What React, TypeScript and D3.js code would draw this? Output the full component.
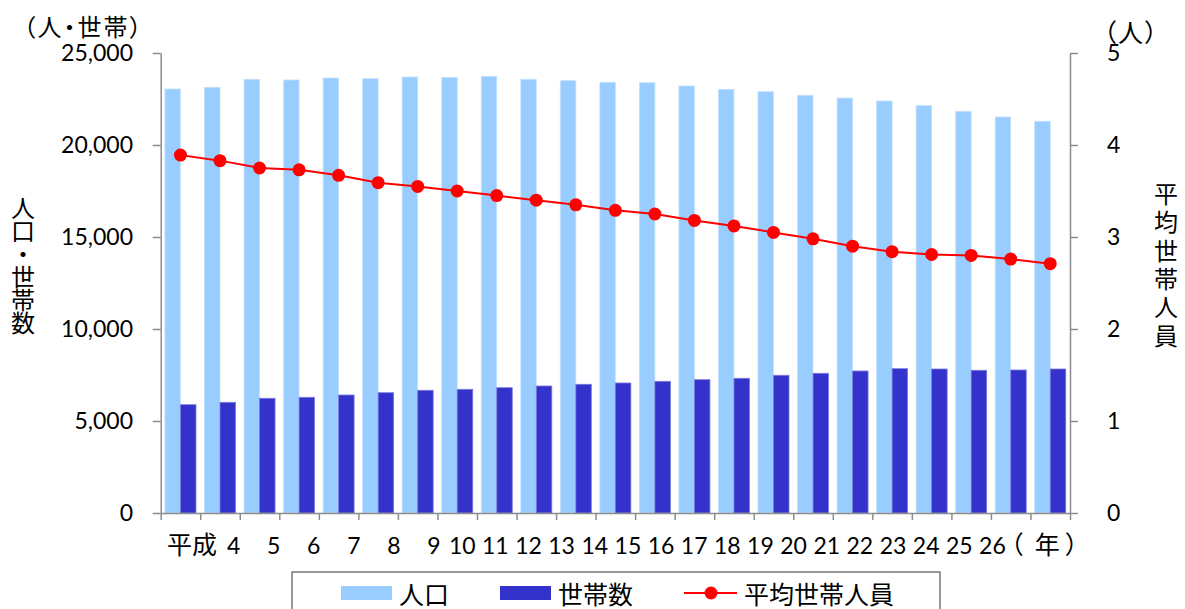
import React, { useEffect, useRef } from "react";
import * as d3 from "d3";

// ---- data ----
const years = [4, 5, 6, 7, 8, 9, 10, 11, 12, 13, 14, 15, 16, 17, 18, 19, 20, 21, 22, 23, 24, 25, 26];
const population = [23044, 23136, 23571, 23533, 23641, 23605, 23696, 23678, 23732, 23571, 23497, 23408, 23387, 23207, 23028, 22898, 22702, 22555, 22392, 22137, 21832, 21522, 21290];
const households = [5886, 6016, 6234, 6288, 6413, 6538, 6669, 6723, 6810, 6902, 6995, 7066, 7157, 7245, 7321, 7484, 7593, 7718, 7843, 7826, 7756, 7772, 7826];
const avgSize = [3.89, 3.83, 3.75, 3.73, 3.67, 3.59, 3.55, 3.50, 3.45, 3.40, 3.35, 3.29, 3.25, 3.18, 3.12, 3.05, 2.98, 2.90, 2.84, 2.81, 2.80, 2.76, 2.71];
const leftTicks = [0, 5000, 10000, 15000, 20000, 25000];
const rightTicks = [0, 1, 2, 3, 4, 5];
const eraLabel = "平成";
const yearUnit = ["（", "年", "）"];
const leftUnit = "（人・世帯）";
const rightUnit = "（人）";
const leftTitle = "人口・世帯数";
const rightTitle = "平均世帯人員";
const legendLabels = ["人口", "世帯数", "平均世帯人員"];

// ---- layout / style ----
const W = 1185, H = 609;
const PL = 160.7, PR = 1070, PT = 53, PB = 513;
const C = { light: "#99CCFF", dark: "#3333CC", red: "#FF0000", axis: "#8C8C8C", text: "#000" };
const NUM_FONT = "Lato, 'Noto Sans CJK JP', sans-serif";
const JP_FONT = "'Noto Sans CJK JP', sans-serif";

export default function App() {
  const leftRef = useRef<SVGGElement>(null);
  const rightRef = useRef<SVGGElement>(null);
  const bottomRef = useRef<SVGGElement>(null);

  const x = d3.scaleBand<number>().domain(years).range([PL, PR]).paddingInner(0.215).paddingOuter(0.1075);
  const bw = x.bandwidth() / 2;
  const yL = d3.scaleLinear().domain([0, 25000]).range([PB, PT]);
  const yR = d3.scaleLinear().domain([0, 5]).range([PB, PT]);
  const xb = d3.scaleLinear().domain([0, years.length]).range([PL, PR]);

  const cx = (i: number) => (x(years[i]) as number) + x.bandwidth() / 2;
  const line = d3.line<number>().x((_, i) => cx(i)).y((d) => yR(d));

  useEffect(() => {
    const styleAxis = (g: d3.Selection<SVGGElement, unknown, null, undefined>) => {
      g.select(".domain").attr("stroke", C.axis).attr("stroke-width", 1.5);
      g.selectAll(".tick line").attr("stroke", C.axis).attr("stroke-width", 1.5);
      g.selectAll(".tick text").attr("fill", C.text).attr("font-size", 23).attr("font-family", NUM_FONT);
    };
    const gl = d3.select(leftRef.current!);
    gl.call(d3.axisLeft(yL).tickValues(leftTicks).tickSize(8).tickSizeOuter(0).tickPadding(19.7).tickFormat(d3.format(",") as any));
    styleAxis(gl);
    const gr = d3.select(rightRef.current!);
    gr.call(d3.axisRight(yR).tickValues(rightTicks).tickSize(8).tickSizeOuter(0).tickPadding(29).tickFormat(d3.format("d") as any));
    styleAxis(gr);
    const gb = d3.select(bottomRef.current!);
    gb.call(d3.axisBottom(xb).tickValues(d3.range(0, years.length + 1)).tickSize(7).tickSizeOuter(0).tickFormat(() => ""));
    styleAxis(gb);
  }, []);

  // x label text run (as a single typed line, like the original text box)
  const labelDx = (i: number) => {
    if (i === 0) return 10;
    const prev = String(years[i - 1]);
    const cur = String(years[i]);
    if (prev.length === 1 && cur.length === 1) return 26.7;
    if (prev.length === 1) return 8.3;
    return 6.45;
  };

  const palt = { fontFeatureSettings: '"palt"', letterSpacing: "2px" } as React.CSSProperties;

  return (
    <svg width={W} height={H} style={{ position: "absolute", left: 0, top: 0, background: "#fff" }}>
      {/* bars */}
      {years.map((yr, i) => (
        <g key={yr}>
          <rect x={x(yr)} y={yL(population[i])} width={bw} height={PB - yL(population[i])} fill={C.light} stroke="#C4E2FF" strokeWidth={0.8} />
          <rect x={(x(yr) as number) + bw} y={yL(households[i])} width={bw} height={PB - yL(households[i])} fill={C.dark} stroke="#7A7ADD" strokeWidth={0.8} />
        </g>
      ))}

      {/* axes */}
      <g ref={leftRef} transform={`translate(${PL},0)`} />
      <g ref={rightRef} transform={`translate(${PR},0)`} />
      <g ref={bottomRef} transform={`translate(0,${PB})`} />

      {/* line */}
      <path d={line(avgSize) || ""} fill="none" stroke={C.red} strokeWidth={2} />
      {avgSize.map((v, i) => (
        <circle key={i} cx={cx(i)} cy={yR(v)} r={6.5} fill={C.red} />
      ))}

      {/* x labels */}
      <text y={554} fill={C.text}>
        <tspan x={167} fontFamily={JP_FONT} fontSize={25}>{eraLabel}</tspan>
        {years.map((yr, i) => (
          <tspan key={yr} dx={labelDx(i)} fontFamily={NUM_FONT} fontSize={23}>{String(yr)}</tspan>
        ))}
        <tspan dx={-7} fontFamily={JP_FONT} fontSize={25}>{yearUnit[0]}</tspan>
        <tspan dx={11} fontFamily={JP_FONT} fontSize={25}>{yearUnit[1]}</tspan>
        <tspan dx={5} fontFamily={JP_FONT} fontSize={25}>{yearUnit[2]}</tspan>
      </text>

      {/* units */}
      <text x={83.5} y={25} textAnchor="middle" dominantBaseline="central" fontFamily={JP_FONT} fontSize={24} fill={C.text} style={palt}>{leftUnit}</text>
      <text x={1131.5} y={31} textAnchor="middle" dominantBaseline="central" fontFamily={JP_FONT} fontSize={25} fill={C.text} style={palt}>{rightUnit}</text>

      {/* axis titles (vertical) */}
      {Array.from(leftTitle).map((ch, i) => (
        <text key={"l" + i} x={23} y={206.5 + i * 23} textAnchor="middle" dominantBaseline="central" fontFamily={JP_FONT} fontSize={24} fill={C.text}>{ch}</text>
      ))}
      {Array.from(rightTitle).map((ch, i) => (
        <text key={"r" + i} x={1166} y={192.5 + i * 28.3} textAnchor="middle" dominantBaseline="central" fontFamily={JP_FONT} fontSize={24} fill={C.text}>{ch}</text>
      ))}

      {/* legend */}
      <rect x={292} y={572} width={648} height={60} fill="#fff" stroke="#333" strokeWidth={1} />
      <rect x={341} y={586} width={51} height={14} fill={C.light} />
      <text x={399} y={593} dominantBaseline="central" fontFamily={JP_FONT} fontSize={25} fill={C.text}>{legendLabels[0]}</text>
      <rect x={500} y={586} width={51} height={14} fill={C.dark} />
      <text x={558} y={593} dominantBaseline="central" fontFamily={JP_FONT} fontSize={25} fill={C.text}>{legendLabels[1]}</text>
      <line x1={684} x2={737} y1={593} y2={593} stroke={C.red} strokeWidth={2} />
      <circle cx={711} cy={593} r={6.5} fill={C.red} />
      <text x={744} y={593} dominantBaseline="central" fontFamily={JP_FONT} fontSize={25} fill={C.text}>{legendLabels[2]}</text>
    </svg>
  );
}
